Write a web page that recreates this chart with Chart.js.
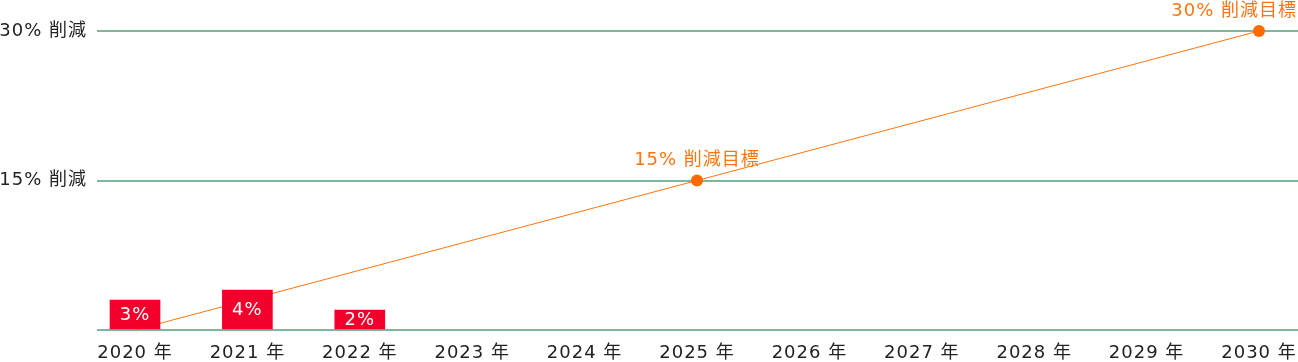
<!DOCTYPE html>
<html lang="ja">
<head>
<meta charset="utf-8">
<title>削減目標</title>
<script src="https://cdn.jsdelivr.net/npm/chart.js@4"></script>
<style>
  html, body { margin: 0; padding: 0; background: #fff; }
  #wrap { width: 1298px; height: 362px; position: relative; }
</style>
</head>
<body>
<div id="wrap"><canvas id="reduceChart"></canvas></div>
<script>
// results so far (bars) and targets (line)
const years = [2020, 2021, 2022, 2023, 2024, 2025, 2026, 2027, 2028, 2029, 2030];
const actualYears = [2020, 2021, 2022];
const actualValues = [3, 4, 2];
const targetYears = [2020, 2025, 2030];
const targetValues = [0, 15, 30];
const targetLabels = ['', '15% 削減目標', '30% 削減目標'];
const yTicks = [0, 15, 30];
const yTickLabels = ['', '15% 削減', '30% 削減'];

const FONT = '"DejaVu Sans", "Noto Sans CJK JP", sans-serif';
const ORANGE = '#ff7410';

// a bit of letter spacing, the original typeface is wide
const spacing = {
  id: 'spacing',
  beforeUpdate(chart) { chart.ctx.letterSpacing = '1px'; },
  beforeDraw(chart) { chart.ctx.letterSpacing = '1px'; }
};

const valueLabels = {
  id: 'valueLabels',
  afterDatasetsDraw(chart) {
    const ctx = chart.ctx;
    ctx.save();
    ctx.letterSpacing = '1px';
    ctx.font = '18px ' + FONT;
    ctx.textAlign = 'center';

    // percentages inside the bars
    ctx.fillStyle = '#fff';
    ctx.textBaseline = 'middle';
    chart.getDatasetMeta(1).data.forEach((bar, i) => {
      ctx.fillText(actualValues[i] + '%', bar.x, (bar.y + bar.base) / 2 + 1);
    });

    // target labels above the points
    ctx.fillStyle = ORANGE;
    ctx.textBaseline = 'bottom';
    chart.getDatasetMeta(0).data.forEach((pt, i) => {
      const txt = targetLabels[i];
      if (!txt) return;
      const w = ctx.measureText(txt).width;
      let x = pt.x;
      if (x + w / 2 > chart.width - 1) x = chart.width - 1 - w / 2;
      ctx.fillText(txt, x, pt.y - 11);
    });
    ctx.restore();
  }
};

document.addEventListener('DOMContentLoaded', function () {
  const ctx = document.getElementById('reduceChart');
  new Chart(ctx, {
    data: {
      datasets: [
        {
          type: 'line',
          label: '削減目標',
          data: targetYears.map((y, i) => ({ x: y, y: targetValues[i] })),
          borderColor: ORANGE,
          borderWidth: 1,
          pointRadius: targetLabels.map(t => t ? 6 : 0),
          pointBackgroundColor: '#ff6a00',
          pointBorderWidth: 0,
          tension: 0,
          clip: false,
          order: 2
        },
        {
          type: 'bar',
          label: '実績',
          data: actualYears.map((y, i) => ({ x: y, y: actualValues[i] })),
          backgroundColor: '#f2002b',
          barThickness: 50,
          order: 1
        }
      ]
    },
    options: {
      responsive: true,
      maintainAspectRatio: false,
      animation: false,
      layout: { autoPadding: false, padding: { top: 31, right: 0, bottom: 0, left: 0 } },
      plugins: {
        legend: { display: false },
        tooltip: { enabled: false }
      },
      scales: {
        x: {
          type: 'linear',
          offset: false,
          min: 2019.662,
          max: 2030.347,
          grid: { display: false },
          border: { display: false },
          afterBuildTicks: s => { s.ticks = years.map(v => ({ value: v })); },
          afterFit: s => { s.height = 32; s.paddingLeft = 0; s.paddingRight = 0; },
          ticks: {
            autoSkip: false,
            maxRotation: 0,
            padding: 5,
            color: '#222',
            font: { family: FONT, size: 18 },
            callback: v => v + ' 年'
          }
        },
        y: {
          min: 0,
          max: 30,
          border: { display: false },
          grid: { color: '#80b59e', lineWidth: 2, drawTicks: false },
          afterBuildTicks: s => { s.ticks = yTicks.map(v => ({ value: v })); },
          afterFit: s => { s.width = 97; },
          ticks: {
            padding: 10,
            color: '#222',
            font: { family: FONT, size: 18 },
            callback: v => yTickLabels[yTicks.indexOf(v)]
          }
        }
      }
    },
    plugins: [spacing, valueLabels]
  });
});
</script>
</body>
</html>
